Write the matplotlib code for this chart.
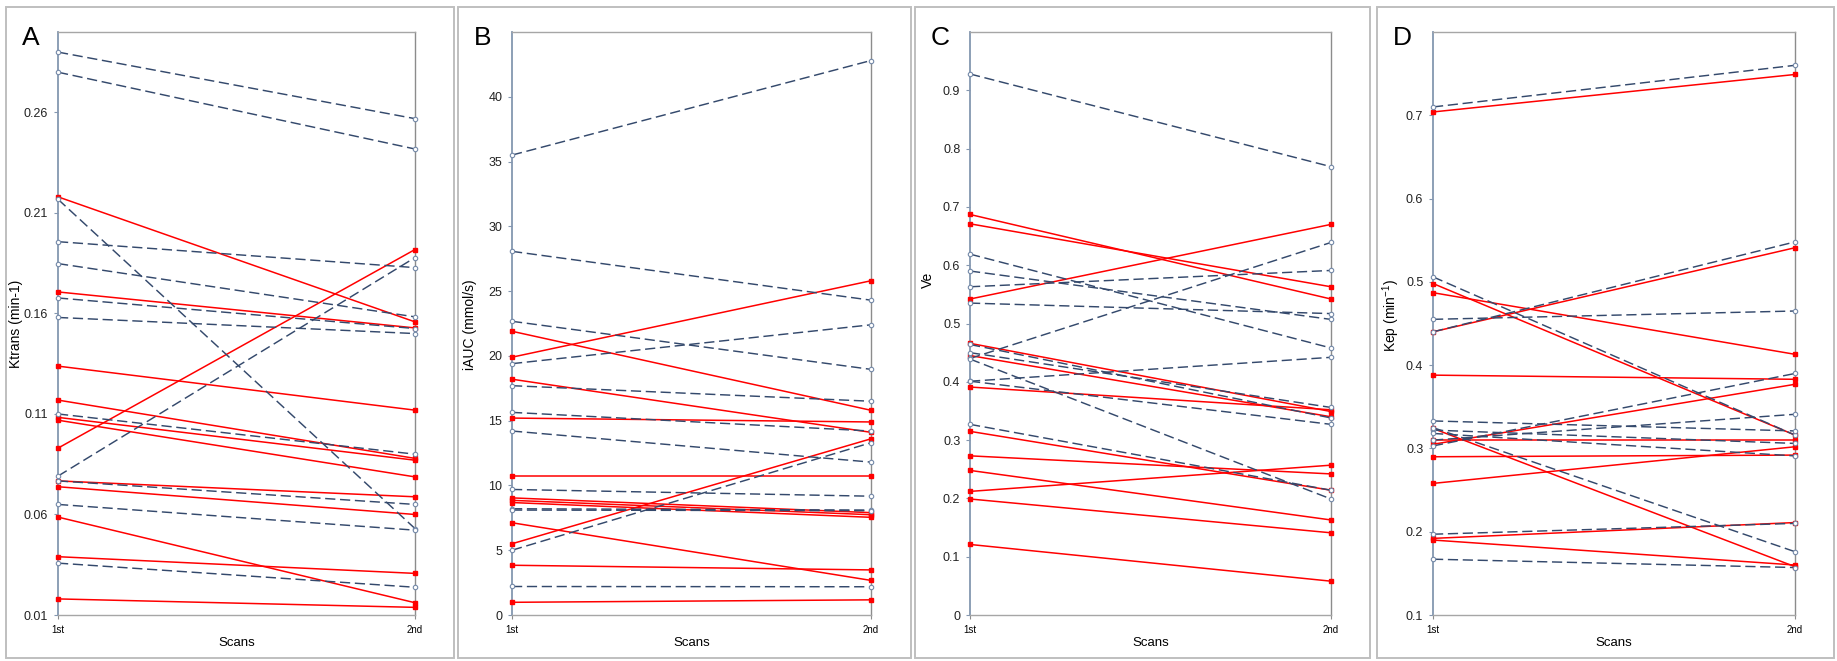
import matplotlib
matplotlib.use("Agg")
import matplotlib.pyplot as plt
from matplotlib.patches import Rectangle
from matplotlib.ticker import FuncFormatter

plt.rcParams['font.family'] = ['Liberation Sans', 'DejaVu Sans']
plt.rcParams['mathtext.fontset'] = 'custom'
plt.rcParams['mathtext.rm'] = 'Liberation Sans'
plt.rcParams['mathtext.it'] = 'Liberation Sans:italic'

# scan labels
scans = ['1st', '2nd']

# A - Ktrans
ktrans_red_1st = [0.218, 0.1707, 0.093, 0.1338, 0.1169, 0.1083, 0.1069, 0.0767, 0.0738, 0.0587, 0.039, 0.018]
ktrans_red_2nd = [0.1558, 0.1528, 0.1918, 0.1119, 0.0879, 0.087, 0.0787, 0.0688, 0.060, 0.0161, 0.0307, 0.0138]
ktrans_blue_1st = [0.290, 0.280, 0.2168, 0.1957, 0.1848, 0.1677, 0.158, 0.0791, 0.110, 0.0767, 0.065, 0.0358]
ktrans_blue_2nd = [0.2569, 0.2418, 0.053, 0.1828, 0.1583, 0.1525, 0.150, 0.1878, 0.090, 0.065, 0.0522, 0.0238]

# B - iAUC
iauc_red_1st = [19.9, 21.9, 18.2, 15.2, 10.73, 9.04, 8.85, 8.68, 7.12, 5.5, 3.84, 0.98]
iauc_red_2nd = [25.8, 15.8, 14.1, 14.9, 10.73, 7.9, 7.74, 7.54, 2.67, 13.6, 3.48, 1.17]
iauc_blue_1st = [35.5, 28.07, 22.67, 19.4, 17.7, 15.64, 14.2, 9.69, 8.2, 8.1, 5.0, 2.2]
iauc_blue_2nd = [42.8, 24.3, 18.96, 22.4, 16.5, 14.2, 11.8, 9.17, 8.1, 8.05, 13.3, 2.18]

# C - Ve
ve_red_1st = [0.687, 0.671, 0.542, 0.466, 0.445, 0.391, 0.315, 0.273, 0.248, 0.212, 0.199, 0.121]
ve_red_2nd = [0.542, 0.563, 0.670, 0.349, 0.340, 0.352, 0.214, 0.242, 0.163, 0.257, 0.141, 0.058]
ve_blue_1st = [0.928, 0.619, 0.590, 0.563, 0.535, 0.464, 0.450, 0.440, 0.439, 0.401, 0.401, 0.327]
ve_blue_2nd = [0.769, 0.458, 0.507, 0.591, 0.517, 0.338, 0.356, 0.639, 0.199, 0.442, 0.327, 0.214]

# D - Kep
kep_red_1st = [0.704, 0.440, 0.487, 0.498, 0.388, 0.305, 0.310, 0.290, 0.258, 0.192, 0.190, 0.324]
kep_red_2nd = [0.749, 0.541, 0.413, 0.316, 0.383, 0.377, 0.310, 0.292, 0.302, 0.211, 0.160, 0.158]
kep_blue_1st = [0.710, 0.440, 0.455, 0.506, 0.303, 0.310, 0.333, 0.322, 0.318, 0.325, 0.197, 0.167]
kep_blue_2nd = [0.760, 0.548, 0.465, 0.316, 0.390, 0.341, 0.321, 0.306, 0.291, 0.176, 0.210, 0.157]

W, H = 1837, 661
RED = '#ff0000'
NAVY = '#34496c'

panels = [
    dict(letter='A', ylabel='Ktrans (min-1)', red=(ktrans_red_1st, ktrans_red_2nd),
         blue=(ktrans_blue_1st, ktrans_blue_2nd), ylim=(0.01, 0.30),
         ticks=[0.01, 0.06, 0.11, 0.16, 0.21, 0.26], fmt=lambda v, p: '%.2f' % v,
         box=(6, 454), ax=(58, 415), ylab_y=324),
    dict(letter='B', ylabel='iAUC (mmol/s)', red=(iauc_red_1st, iauc_red_2nd),
         blue=(iauc_blue_1st, iauc_blue_2nd), ylim=(0, 45),
         ticks=list(range(0, 45, 5)), fmt=lambda v, p: '%d' % v,
         box=(458, 911), ax=(512, 871), ylab_y=325),
    dict(letter='C', ylabel='Ve', red=(ve_red_1st, ve_red_2nd),
         blue=(ve_blue_1st, ve_blue_2nd), ylim=(0, 1.0),
         ticks=[i / 10 for i in range(10)], fmt=lambda v, p: '0' if v == 0 else '%.1f' % v,
         box=(915, 1370), ax=(970, 1331), ylab_y=280),
    dict(letter='D', ylabel=r'Kep (min$^{-1}$)', red=(kep_red_1st, kep_red_2nd),
         blue=(kep_blue_1st, kep_blue_2nd), ylim=(0.1, 0.8),
         ticks=[0.1, 0.2, 0.3, 0.4, 0.5, 0.6, 0.7], fmt=lambda v, p: '%.1f' % v,
         box=(1377, 1834), ax=(1433, 1795), ylab_y=316),
]

fig = plt.figure(figsize=(W / 100, H / 100), dpi=100)

AX_TOP, AX_BOT = 32, 615

for p in panels:
    bx0, bx1 = p['box']
    fig.patches.append(Rectangle((bx0 / W, 1 - 658 / H), (bx1 - bx0) / W, (658 - 7) / H,
                                 transform=fig.transFigure, fill=False,
                                 edgecolor='#bfbfbf', lw=1.4))
    x0, x1 = p['ax']
    ax = fig.add_axes([x0 / W, 1 - AX_BOT / H, (x1 - x0) / W, (AX_BOT - AX_TOP) / H])

    for a, b in zip(*p['red']):
        ax.plot([0, 1], [a, b], color=RED, lw=1.1, marker='s', ms=2.6,
                mfc=RED, mec=RED, clip_on=False, zorder=3)
    for a, b in zip(*p['blue']):
        ax.plot([0, 1], [a, b], color=NAVY, lw=1.05, dashes=(7, 3.2), marker='o', ms=3.2,
                mfc='white', mec='#7489a8', mew=0.8, clip_on=False, zorder=4)

    ax.set_xlim(0, 1)
    ax.set_ylim(*p['ylim'])
    ax.set_yticks(p['ticks'])
    ax.yaxis.set_major_formatter(FuncFormatter(p['fmt']))
    ax.set_xticks([0, 1])
    ax.set_xticklabels(scans, fontsize=7)
    ax.tick_params(axis='y', direction='out', length=3, width=0.8, color='#8497b0',
                   labelsize=9, pad=4, labelcolor='#222222')
    ax.tick_params(axis='x', direction='out', length=3, width=0.8, color='#8c8c8c', pad=4)

    ax.spines['left'].set_color('#8497b0')
    ax.spines['left'].set_linewidth(1.3)
    ax.spines['top'].set_color('#a6a6a6')
    ax.spines['top'].set_linewidth(1.0)
    ax.spines['right'].set_color('#8c8c8c')
    ax.spines['right'].set_linewidth(1.0)
    ax.spines['bottom'].set_color('#a6a6a6')
    ax.spines['bottom'].set_linewidth(1.0)

    fig.text((bx0 + 16) / W, 1 - 38 / H, p['letter'], fontsize=19, ha='left', va='center')
    fig.text((x0 - 42) / W, 1 - p['ylab_y'] / H, p['ylabel'], fontsize=10,
             rotation=90, ha='center', va='center')
    fig.text((x0 + x1) / 2 / W, 1 - 643 / H, 'Scans', fontsize=9.5, ha='center', va='center')

fig.savefig('out.png', dpi=100)
